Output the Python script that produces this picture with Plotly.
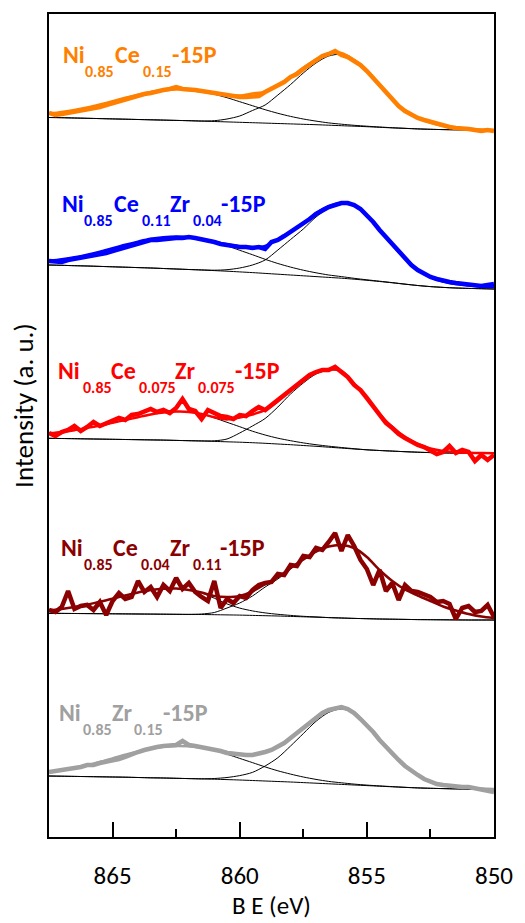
import plotly.graph_objects as go

# ---------------- data (binding energy grid, eV) ----------------
E_DATA = [867.5, 867.25, 867.0, 866.75, 866.5, 866.25, 866.0, 865.75, 865.5, 865.25,
          865.0, 864.75, 864.5, 864.25, 864.0, 863.75, 863.5, 863.25, 863.0, 862.75,
          862.5, 862.25, 862.0, 861.75, 861.5, 861.25, 861.0, 860.75, 860.5, 860.25,
          860.0, 859.75, 859.5, 859.25, 859.0, 858.75, 858.5, 858.25, 858.0, 857.75,
          857.5, 857.25, 857.0, 856.75, 856.5, 856.25, 856.0, 855.75, 855.5, 855.25,
          855.0, 854.75, 854.5, 854.25, 854.0, 853.75, 853.5, 853.25, 853.0, 852.75,
          852.5, 852.25, 852.0, 851.75, 851.5, 851.25, 851.0, 850.75, 850.5, 850.25, 850.0]

E_FIT = [867.5, 867.0, 866.5, 866.0, 865.5, 865.0, 864.5, 864.0, 863.5, 863.0,
         862.5, 862.0, 861.5, 861.0, 860.5, 860.0, 859.5, 859.0, 858.5, 858.0,
         857.5, 857.0, 856.5, 856.0, 855.5, 855.0, 854.5, 854.0, 853.5, 853.0,
         852.5, 852.0, 851.5, 851.0, 850.5, 850.0]

X_TICKS = [865, 860, 855, 850]
X_MINOR = [862.5, 857.5, 852.5]

# ---- Ni0.85Ce0.15-15P (orange) ----
orange_data = [724, 722, 723, 724, 725, 727, 727, 729, 730, 732,
               734, 735, 738, 739, 741, 743, 744, 746, 747, 748,
               750, 748, 748, 747, 746, 745, 744, 742, 741, 740,
               740, 740, 741, 741, 745, 748, 751, 755, 760, 763,
               768, 772, 777, 781, 783, 786, 782, 780, 776, 772,
               766, 759, 752, 745, 737, 731, 726, 722, 719, 717,
               715, 713, 711, 710, 709, 709, 708, 707, 706, 707, 706]
orange_bg = [719.5, 719.3, 719, 718.7, 718.4, 718.1, 717.8, 717.5, 717.2, 716.9,
             716.6, 716.3, 715.9, 715.5, 715.1, 714.7, 714.3, 713.9, 713.5, 713.1,
             712.7, 712.3, 711.8, 711.3, 710.8, 710.3, 709.7, 709.1, 708.6, 708.1,
             707.7, 707.4, 707.2, 707.1, 707, 707]
orange_sat = [723.4, 725, 727, 729.5, 732.5, 735.8, 739.2, 742.3, 745, 746.7,
              747.5, 747.1, 745.4, 742.7, 739.3, 735.3, 731.3, 727.3, 723.7, 720.6,
              718, 715.9, 714.1, 712.8, 711.7, 710.8, 710, 709.3, 708.7, 708.1,
              707.7, 707.4, 707.2, 707.1, 707, 707]
orange_main = [719.5, 719.3, 719, 718.7, 718.4, 718.1, 717.8, 717.5, 717.2, 716.9,
               716.6, 716.3, 716.0, 716.3, 718, 721, 726.5, 732, 742, 752.5,
               764, 774, 781, 782.5, 776, 766, 752, 737.5, 726, 719,
               714.5, 711.2, 709.3, 708.2, 707.4, 707]

# ---- Ni0.85Ce0.11Zr0.04-15P (blue) ----
blue_data = [576, 575, 575, 577, 578, 579, 580, 582, 583, 584,
             586, 588, 590, 592, 594, 596, 597, 597, 598, 598,
             599, 599, 600, 599, 598, 597, 595, 593, 592, 590,
             590, 590, 589, 590, 588, 595, 597, 601, 605, 609,
             613, 618, 623, 627, 630, 632, 634, 634, 632, 628,
             622, 615, 607, 600, 592, 585, 578, 572, 567, 563,
             560, 558, 556, 555, 554, 553, 552, 551, 551, 552, 553]
blue_bg = [572, 571.7, 571.3, 571, 570.6, 570.2, 569.8, 569.4, 569, 568.5,
           568, 567.5, 567, 566.4, 565.8, 565.1, 564.4, 563.6, 562.8, 562,
           561.2, 560.4, 559.6, 558.8, 557.8, 556.7, 555.5, 554.2, 552.8, 551.5,
           550.4, 549.6, 549, 548.6, 548.3, 548]
blue_sat = [576.1, 577.7, 579.7, 582.3, 585.4, 588.8, 592.3, 595.4, 598.2, 599.8,
            600.4, 599.8, 598, 595, 591.2, 586.7, 582.3, 577.7, 573.5, 569.9,
            566.8, 564.2, 562, 560.4, 558.7, 557.2, 555.8, 554.4, 552.9, 551.5,
            550.4, 549.6, 549, 548.6, 548.3, 548]
blue_main = [572, 571.7, 571.3, 571, 570.6, 570.2, 569.8, 569.4, 569, 568.5,
             568, 567.5, 567.1, 566.8, 567.3, 569, 572, 577, 587, 597.5,
             608, 620, 628.5, 632.5, 631, 621, 607, 592, 578, 567.5,
             560, 555.5, 553, 551.5, 550.5, 550]

# ---- Ni0.85Ce0.075Zr0.075-15P (red) ----
red_data = [404, 401, 405, 407, 411, 406, 410, 415, 411, 414,
            416, 419, 417, 422, 423, 425, 428, 425, 427, 424,
            429, 438, 428, 426, 418, 427, 424, 421, 420, 418,
            422, 421, 426, 430, 427, 432, 436, 442, 447, 452,
            457, 462, 465, 467, 467, 470, 465, 460, 452, 447,
            439, 431, 423, 414, 409, 403, 399, 395, 392, 390,
            386, 383, 385, 391, 384, 387, 385, 376, 382, 377, 382]
red_bg = [398.7, 398.5, 398.3, 398.1, 397.9, 397.7, 397.5, 397.3, 397.1, 396.9,
          396.6, 396.3, 396, 395.6, 395.2, 394.8, 394.3, 393.7, 393, 392.3,
          391.5, 390.7, 389.8, 388.9, 388, 387.2, 386.5, 385.9, 385.3, 384.8,
          384.4, 384.1, 383.9, 383.8, 383.7, 383.7]
red_sat = [403.7, 405, 406.8, 409.1, 411.4, 414.2, 417, 419.8, 422.6, 424.4,
           425.4, 425.1, 423, 419.1, 414.7, 410.3, 405.8, 402, 398.8, 396.3,
           394.1, 392.3, 390.8, 389.5, 388.3, 387.2, 386.5, 385.9, 385.3, 384.8,
           384.4, 384.1, 383.9, 383.8, 383.7, 383.7]
red_main = [398.7, 398.5, 398.3, 398.1, 397.9, 397.7, 397.5, 397.3, 397.1, 396.9,
            396.6, 396.3, 396.1, 396.2, 398, 404, 411, 418.5, 430, 443,
            454, 463, 467, 465.5, 453, 439, 423, 410, 400, 393,
            388.5, 386, 384.8, 384.2, 383.9, 383.7]

# ---- Ni0.85Ce0.04Zr0.11-15P (dark red) ----
dred_data = [227, 225, 230, 246, 228, 231, 232, 227, 235, 222,
             236, 244, 238, 240, 256, 245, 250, 240, 252, 246,
             259, 248, 254, 245, 240, 236, 256, 229, 238, 234,
             241, 239, 247, 252, 254, 255, 263, 262, 272, 271,
             281, 280, 289, 287, 295, 304, 286, 302, 291, 277,
             268, 252, 267, 246, 254, 237, 252, 246, 245, 243,
             240, 235, 236, 233, 218, 229, 231, 225, 226, 232, 220]
dred_bg = [223.7, 223.6, 223.5, 223.4, 223.3, 223.2, 223.1, 223, 222.9, 222.8,
           222.7, 222.6, 222.5, 222.3, 222.1, 221.9, 221.6, 221.3, 221, 220.6,
           220.2, 219.8, 219.4, 219, 218.6, 218.3, 218, 217.8, 217.6, 217.4,
           217.3, 217.2, 217.1, 217, 217, 217]
dred_sat = [226.7, 228.1, 230, 232.4, 235.3, 238.2, 241.6, 244.5, 246.9, 248.3,
            248.5, 247.1, 244, 238.8, 233.1, 228.9, 226.1, 224.1, 222.7, 221.6,
            220.7, 220.1, 219.4, 219, 218.6, 218.3, 218, 217.8, 217.6, 217.4,
            217.3, 217.2, 217.1, 217, 217, 217]
dred_main = [223.7, 223.6, 223.5, 223.4, 223.3, 223.2, 223.1, 223, 222.9, 222.8,
             222.7, 222.6, 223, 224.5, 229, 234, 241, 250, 258, 268,
             277, 285, 290.5, 292, 289, 280, 267, 256, 247.5, 241.5,
             236, 230.5, 226.5, 223, 220.5, 219]

# ---- Ni0.85Zr0.15-15P (grey) ----
grey_data = [65, 66, 66, 67, 69, 70, 72, 72, 74, 75,
             77, 78, 80, 83, 85, 87, 89, 90, 91, 91,
             92, 96, 92, 91, 90, 89, 88, 86, 84, 83,
             83, 82, 82, 83, 85, 87, 90, 94, 99, 104,
             109, 114, 119, 124, 127, 129, 130, 128, 124, 118,
             112, 105, 97, 90, 83, 77, 71, 66, 62, 58,
             55, 53, 52, 51, 50, 50, 50, 49, 48, 47, 45]
grey_bg = [61, 60.8, 60.6, 60.4, 60.2, 60, 59.8, 59.5, 59.2, 59,
           58.7, 58.4, 58.1, 57.8, 57.4, 57, 56.5, 56, 55.5, 55,
           54.4, 53.8, 53.2, 52.6, 52, 51.4, 50.8, 50.2, 49.6, 49.1,
           48.7, 48.4, 48.1, 47.9, 47.8, 47.7]
grey_sat = [65.1, 66.8, 69, 71.7, 75, 78.6, 82.3, 85.5, 88.4, 90.3,
            91.1, 90.7, 89.1, 86.4, 82.8, 78.6, 74.4, 70.1, 66.2, 62.9,
            60, 57.6, 55.6, 54.2, 52.9, 51.9, 51.1, 50.4, 49.7, 49.1,
            48.7, 48.4, 48.1, 47.9, 47.8, 47.7]
grey_main = [61, 60.8, 60.6, 60.4, 60.2, 60, 59.8, 59.5, 59.2, 59,
             58.7, 58.4, 58.2, 58.5, 59.5, 61.4, 64.6, 71, 79.3, 91,
             103.4, 115.7, 124.6, 128.1, 123.5, 111.5, 97, 82.5, 71, 62,
             55.5, 52, 50.2, 49.2, 48.4, 48]

# sample names: list of (text, is_subscript)
LABELS = [
    [("Ni", 0), ("0.85", 1), ("Ce", 0), ("0.15", 1), ("-15P", 0)],
    [("Ni", 0), ("0.85", 1), ("Ce", 0), ("0.11", 1), ("Zr", 0), ("0.04", 1), ("-15P", 0)],
    [("Ni", 0), ("0.85", 1), ("Ce", 0), ("0.075", 1), ("Zr", 0), ("0.075", 1), ("-15P", 0)],
    [("Ni", 0), ("0.85", 1), ("Ce", 0), ("0.04", 1), ("Zr", 0), ("0.11", 1), ("-15P", 0)],
    [("Ni", 0), ("0.85", 1), ("Zr", 0), ("0.15", 1), ("-15P", 0)],
]

# ---------------- styling / layout ----------------
COLORS = ["#FF8000", "#0000FF", "#FF0000", "#8B0000", "#A0A0A0"]
SERIES = [
    (orange_data, orange_bg, orange_sat, orange_main),
    (blue_data, blue_bg, blue_sat, blue_main),
    (red_data, red_bg, red_sat, red_main),
    (dred_data, dred_bg, dred_sat, dred_main),
    (grey_data, grey_bg, grey_sat, grey_main),
]
# label piece placement in pixels: left edges, main baseline, subscript baseline
LABEL_X = [
    [61, 84, 114, 142, 172],
    [60, 83, 113, 141, 170, 193, 222],
    [56, 81, 110, 138, 175, 198, 236],
    [59, 83, 112, 140, 170, 193, 221],
    [57, 82, 111, 133, 163],
]
LABEL_BASE = [(63.3, 77.7), (212.7, 227), (380, 394), (557, 571), (722, 736)]

W, H = 525, 923
L, R, T, B = 49, 24, 14, 86
PW, PH = W - L - R, H - T - B
FONT = "Carlito, Lato, sans-serif"
MAIN_SIZE, SUB_SIZE = 24, 16


def px_to_paper(px, py):
    return (px - L) / PW, (H - B - py) / PH


fig = go.Figure()
for (data, bg, sat, main), col in zip(SERIES, COLORS):
    env = [s + m - b for s, m, b in zip(sat, main, bg)]
    for comp in (bg, sat, main):
        fig.add_trace(go.Scatter(x=E_FIT, y=comp, mode="lines",
                                 line=dict(color="black", width=1, shape="spline", smoothing=0.8),
                                 hoverinfo="skip"))
    fig.add_trace(go.Scatter(x=E_FIT, y=env, mode="lines",
                             line=dict(color=col, width=2.5, shape="spline", smoothing=0.8),
                             hoverinfo="skip"))
    fig.add_trace(go.Scatter(x=E_DATA, y=data, mode="lines",
                             line=dict(color=col, width=4.5)))

annotations = []
for pieces, xs, (mb, sb), col in zip(LABELS, LABEL_X, LABEL_BASE, COLORS):
    for (txt, is_sub), px in zip(pieces, xs):
        size = SUB_SIZE if is_sub else MAIN_SIZE
        base = sb if is_sub else mb
        cy = base - 0.387 * size
        xp, yp = px_to_paper(px, cy)
        annotations.append(dict(text="<b>%s</b>" % txt, x=xp, y=yp, xref="paper", yref="paper",
                                xanchor="left", yanchor="middle", showarrow=False,
                                font=dict(family=FONT, size=size, color=col)))

# axis titles
xp, yp = px_to_paper(275, 905.3)
annotations.append(dict(text="B E (eV)", x=xp, y=yp, xref="paper", yref="paper",
                        xanchor="center", yanchor="middle", showarrow=False,
                        font=dict(family=FONT, size=25, color="black")))
xp, yp = px_to_paper(23.5, 406)
annotations.append(dict(text="Intensity (a. u.)", x=xp, y=yp, xref="paper", yref="paper",
                        xanchor="center", yanchor="middle", showarrow=False, textangle=-90,
                        font=dict(family=FONT, size=27, color="black")))

fig.update_layout(
    width=W, height=H, autosize=False,
    margin=dict(l=L, r=R, t=T, b=B, pad=0),
    plot_bgcolor="white", paper_bgcolor="white",
    showlegend=False,
    annotations=annotations,
    xaxis=dict(range=[867.5, 850], tickmode="array", tickvals=X_TICKS,
               ticktext=[str(v) for v in X_TICKS],
               ticks="inside", ticklen=15, tickwidth=2, tickcolor="black",
               minor=dict(tickmode="array", tickvals=X_MINOR, ticks="inside",
                          ticklen=8, tickwidth=2, tickcolor="black", showgrid=False),
               showline=True, linecolor="black", linewidth=2, mirror=True,
               showgrid=False, zeroline=False, ticklabelstandoff=15,
               tickfont=dict(family=FONT, size=25, color="black")),
    yaxis=dict(range=[0, PH], showticklabels=False, ticks="",
               showline=True, linecolor="black", linewidth=1.5, mirror=True,
               showgrid=False, zeroline=False),
)

fig.write_html("out.html", config={"displayModeBar": False},
               post_script="document.body.style.margin='0px';document.body.style.padding='0px';")
